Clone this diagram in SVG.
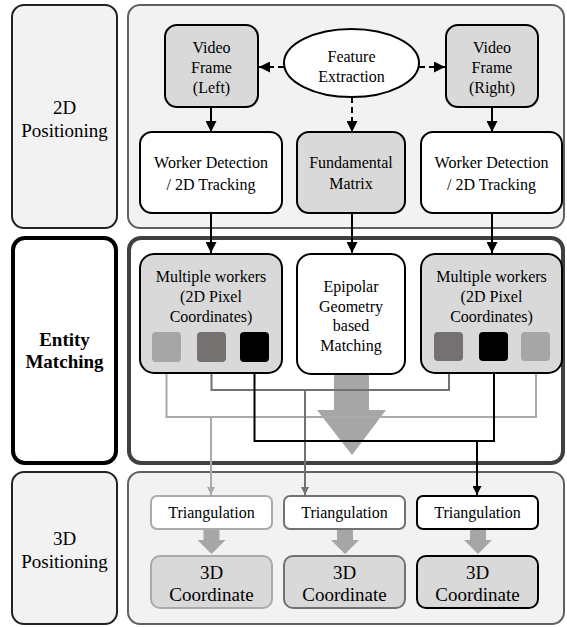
<svg xmlns="http://www.w3.org/2000/svg" width="567" height="627" viewBox="0 0 567 627" font-family="Liberation Serif">
<defs>
<style>
text{fill:#000;text-anchor:middle}
.t16{font-size:16px}
.t19{font-size:19px}
.b{font-weight:bold}
.node{stroke:#000;stroke-width:2}
.gray{fill:#d9d9d9}
.white{fill:#fff}
.c{fill:none;stroke-width:2}
</style>
<marker id="ahk" viewBox="0 0 10 10" refX="10" refY="5" markerWidth="11" markerHeight="11" markerUnits="userSpaceOnUse" orient="auto"><path d="M0,0 L10,5 L0,10 z" fill="#000"/></marker>
<marker id="ahk2" viewBox="0 0 10 10" refX="10" refY="5" markerWidth="9" markerHeight="9" markerUnits="userSpaceOnUse" orient="auto"><path d="M0,0 L10,5 L0,10 z" fill="#000"/></marker>
<marker id="ahl" viewBox="0 0 10 10" refX="10" refY="5" markerWidth="8" markerHeight="8" markerUnits="userSpaceOnUse" orient="auto"><path d="M0,0 L10,5 L0,10 z" fill="#aaaaaa"/></marker>
<marker id="ahm" viewBox="0 0 10 10" refX="10" refY="5" markerWidth="8" markerHeight="8" markerUnits="userSpaceOnUse" orient="auto"><path d="M0,0 L10,5 L0,10 z" fill="#767171"/></marker>
</defs>

<g id="panel-2d-label">
<rect x="12" y="5" width="105" height="223" rx="12" fill="#f2f2f2" stroke="#222" stroke-width="2"/>
<text class="t19" x="64.5" y="114" style="font-family:'Liberation Serif' !important"><tspan style="font-family:'Liberation Serif' !important">2D</tspan></text>
<text class="t19" x="64.5" y="137" style="font-family:'Liberation Serif' !important"><tspan style="font-family:'Liberation Serif' !important">Positioning</tspan></text>
</g>
<g id="panel-2d">
<rect x="128" y="5" width="436" height="223" rx="12" fill="#f2f2f2" stroke="#606060" stroke-width="2"/>
</g>
<g id="panel-em-label">
<rect x="13" y="238" width="103" height="225" rx="12" fill="#fff" stroke="#000" stroke-width="4"/>
<text class="t19 b" x="64.5" y="346" style="font-family:'Liberation Serif' !important"><tspan style="font-family:'Liberation Serif' !important">Entity</tspan></text>
<text class="t19 b" x="64.5" y="368" style="font-family:'Liberation Serif' !important"><tspan style="font-family:'Liberation Serif' !important">Matching</tspan></text>
</g>
<g id="panel-em">
<rect x="129" y="238" width="434" height="225" rx="12" fill="#fff" stroke="#404040" stroke-width="4"/>
</g>
<g id="panel-3d-label">
<rect x="12" y="472" width="105" height="152" rx="12" fill="#f2f2f2" stroke="#222" stroke-width="2"/>
<text class="t19" x="64.5" y="545" style="font-family:'Liberation Serif' !important"><tspan style="font-family:'Liberation Serif' !important">3D</tspan></text>
<text class="t19" x="64.5" y="568" style="font-family:'Liberation Serif' !important"><tspan style="font-family:'Liberation Serif' !important">Positioning</tspan></text>
</g>
<g id="panel-3d">
<rect x="128" y="472" width="436" height="152" rx="12" fill="#f2f2f2" stroke="#606060" stroke-width="2"/>
</g>

<g id="connectors">
<line class="c" x1="211" y1="107" x2="211" y2="132" stroke="#000" marker-end="url(#ahk)"/>
<line class="c" x1="492" y1="107" x2="492" y2="132" stroke="#000" marker-end="url(#ahk)"/>
<line class="c" x1="284" y1="67" x2="259" y2="67" stroke="#000" stroke-dasharray="6,4" marker-end="url(#ahk)"/>
<line class="c" x1="419" y1="67" x2="445" y2="67" stroke="#000" stroke-dasharray="6,4" marker-end="url(#ahk)"/>
<line class="c" x1="352" y1="97" x2="352" y2="132" stroke="#000" stroke-dasharray="6,4" marker-end="url(#ahk)"/>
<line class="c" x1="211" y1="213" x2="211" y2="253" stroke="#000" marker-end="url(#ahk)"/>
<line class="c" x1="352" y1="213" x2="352" y2="253" stroke="#000" marker-end="url(#ahk)"/>
<line class="c" x1="492" y1="213" x2="492" y2="253" stroke="#000" marker-end="url(#ahk)"/>
<polygon points="334,374 369,374 369,410 386,410 352,455 317,410 334,410" fill="#a6a6a6"/>
<polyline class="c" points="166.5,362 166.5,417 536,417 536,363" stroke="#aaaaaa" marker-end="url(#ahl)"/>
<line class="c" x1="211" y1="417" x2="211" y2="495" stroke="#aaaaaa" marker-end="url(#ahl)"/>
<polyline class="c" points="211.5,362 211.5,390 449,390 449,363" stroke="#767171" marker-end="url(#ahm)"/>
<line class="c" x1="305" y1="390" x2="305" y2="495" stroke="#767171" marker-end="url(#ahm)"/>
<polyline class="c" points="254.5,362 254.5,441 494,441 494,363" stroke="#000" marker-end="url(#ahk2)"/>
<line class="c" x1="477" y1="441" x2="477" y2="495" stroke="#000" marker-end="url(#ahk2)"/>
<polygon points="203.5,529 219.5,529 219.5,540 225.5,540 211.5,554 197.5,540 203.5,540" fill="#a6a6a6"/>
<polygon points="337,529 353,529 353,540 359,540 345,554 331,540 337,540" fill="#a6a6a6"/>
<polygon points="470,529 486,529 486,540 492,540 478,554 464,540 470,540" fill="#a6a6a6"/>
</g>

<g id="video-left">
<rect class="node gray" x="165" y="25" width="93" height="82" rx="12"/>
<text class="t16" x="211.5" y="53" style="font-family:'Liberation Serif' !important"><tspan style="font-family:'Liberation Serif' !important">Video</tspan></text>
<text class="t16" x="211.5" y="73" style="font-family:'Liberation Serif' !important"><tspan style="font-family:'Liberation Serif' !important">Frame</tspan></text>
<text class="t16" x="211.5" y="93" style="font-family:'Liberation Serif' !important"><tspan style="font-family:'Liberation Serif' !important">(Left)</tspan></text>
</g>
<g id="feature-extraction">
<ellipse class="node white" cx="351.5" cy="63" rx="67.5" ry="34"/>
<text class="t16" x="351.5" y="62" style="font-family:'Liberation Serif' !important"><tspan style="font-family:'Liberation Serif' !important">Feature</tspan></text>
<text class="t16" x="351.5" y="82" style="font-family:'Liberation Serif' !important"><tspan style="font-family:'Liberation Serif' !important">Extraction</tspan></text>
</g>
<g id="video-right">
<rect class="node gray" x="446" y="25" width="92" height="82" rx="12"/>
<text class="t16" x="492" y="53" style="font-family:'Liberation Serif' !important"><tspan style="font-family:'Liberation Serif' !important">Video</tspan></text>
<text class="t16" x="492" y="73" style="font-family:'Liberation Serif' !important"><tspan style="font-family:'Liberation Serif' !important">Frame</tspan></text>
<text class="t16" x="492" y="93" style="font-family:'Liberation Serif' !important"><tspan style="font-family:'Liberation Serif' !important">(Right)</tspan></text>
</g>
<g id="detect-left">
<rect class="node white" x="140" y="132" width="142" height="81" rx="12"/>
<text class="t16" x="211" y="168" style="font-family:'Liberation Serif' !important"><tspan style="font-family:'Liberation Serif' !important">Worker Detection</tspan></text>
<text class="t16" x="211" y="190" style="font-family:'Liberation Serif' !important"><tspan style="font-family:'Liberation Serif' !important">/ 2D Tracking</tspan></text>
</g>
<g id="fundamental">
<rect class="node gray" x="297" y="132" width="108" height="81" rx="12"/>
<text class="t16" x="351" y="168" style="font-family:'Liberation Serif' !important"><tspan style="font-family:'Liberation Serif' !important">Fundamental</tspan></text>
<text class="t16" x="351" y="189" style="font-family:'Liberation Serif' !important"><tspan style="font-family:'Liberation Serif' !important">Matrix</tspan></text>
</g>
<g id="detect-right">
<rect class="node white" x="421" y="132" width="141" height="81" rx="12"/>
<text class="t16" x="491.5" y="168" style="font-family:'Liberation Serif' !important"><tspan style="font-family:'Liberation Serif' !important">Worker Detection</tspan></text>
<text class="t16" x="491.5" y="190" style="font-family:'Liberation Serif' !important"><tspan style="font-family:'Liberation Serif' !important">/ 2D Tracking</tspan></text>
</g>

<g id="workers-left">
<rect class="node gray" x="140" y="254" width="142" height="119" rx="14"/>
<text class="t16" x="211" y="282" style="font-family:'Liberation Serif' !important"><tspan style="font-family:'Liberation Serif' !important">Multiple workers</tspan></text>
<text class="t16" x="211" y="302" style="font-family:'Liberation Serif' !important"><tspan style="font-family:'Liberation Serif' !important">(2D Pixel</tspan></text>
<text class="t16" x="211" y="322" style="font-family:'Liberation Serif' !important"><tspan style="font-family:'Liberation Serif' !important">Coordinates)</tspan></text>
<rect x="152" y="332" width="29" height="30" rx="4" fill="#a6a6a6"/>
<rect x="197" y="332" width="29" height="30" rx="4" fill="#767171"/>
<rect x="240" y="332" width="29" height="30" rx="4" fill="#000"/>
</g>
<g id="epipolar">
<rect class="node white" x="297" y="254" width="108" height="120" rx="14"/>
<text class="t16" x="351" y="292" style="font-family:'Liberation Serif' !important"><tspan style="font-family:'Liberation Serif' !important">Epipolar</tspan></text>
<text class="t16" x="351" y="312" style="font-family:'Liberation Serif' !important"><tspan style="font-family:'Liberation Serif' !important">Geometry</tspan></text>
<text class="t16" x="351" y="331" style="font-family:'Liberation Serif' !important"><tspan style="font-family:'Liberation Serif' !important">based</tspan></text>
<text class="t16" x="351" y="351" style="font-family:'Liberation Serif' !important"><tspan style="font-family:'Liberation Serif' !important">Matching</tspan></text>
</g>
<g id="workers-right">
<rect class="node gray" x="421" y="254" width="141" height="119" rx="14"/>
<text class="t16" x="491.5" y="282" style="font-family:'Liberation Serif' !important"><tspan style="font-family:'Liberation Serif' !important">Multiple workers</tspan></text>
<text class="t16" x="491.5" y="302" style="font-family:'Liberation Serif' !important"><tspan style="font-family:'Liberation Serif' !important">(2D Pixel</tspan></text>
<text class="t16" x="491.5" y="322" style="font-family:'Liberation Serif' !important"><tspan style="font-family:'Liberation Serif' !important">Coordinates)</tspan></text>
<rect x="434" y="332" width="29" height="29" rx="4" fill="#767171"/>
<rect x="479" y="332" width="29" height="29" rx="4" fill="#000"/>
<rect x="521" y="332" width="29" height="29" rx="4" fill="#a6a6a6"/>
</g>

<g id="tri-left">
<rect x="151" y="496" width="121" height="33" rx="6" fill="#fff" stroke="#aaaaaa" stroke-width="2"/>
<text class="t16" x="211.5" y="518" style="font-family:'Liberation Serif' !important"><tspan style="font-family:'Liberation Serif' !important">Triangulation</tspan></text>
</g>
<g id="tri-mid">
<rect x="284" y="496" width="121" height="33" rx="6" fill="#fff" stroke="#767171" stroke-width="2"/>
<text class="t16" x="344.5" y="518" style="font-family:'Liberation Serif' !important"><tspan style="font-family:'Liberation Serif' !important">Triangulation</tspan></text>
</g>
<g id="tri-right">
<rect x="417" y="496" width="121" height="33" rx="6" fill="#fff" stroke="#000" stroke-width="2"/>
<text class="t16" x="477.5" y="518" style="font-family:'Liberation Serif' !important"><tspan style="font-family:'Liberation Serif' !important">Triangulation</tspan></text>
</g>
<g id="coord-left">
<rect x="151" y="556" width="121" height="52" rx="9" fill="#d9d9d9" stroke="#aaaaaa" stroke-width="2"/>
<text class="t19" x="211.5" y="579" style="font-family:'Liberation Serif' !important"><tspan style="font-family:'Liberation Serif' !important">3D</tspan></text>
<text class="t19" x="211.5" y="601" style="font-family:'Liberation Serif' !important"><tspan style="font-family:'Liberation Serif' !important">Coordinate</tspan></text>
</g>
<g id="coord-mid">
<rect x="284" y="556" width="121" height="52" rx="9" fill="#d9d9d9" stroke="#767171" stroke-width="2"/>
<text class="t19" x="344.5" y="579" style="font-family:'Liberation Serif' !important"><tspan style="font-family:'Liberation Serif' !important">3D</tspan></text>
<text class="t19" x="344.5" y="601" style="font-family:'Liberation Serif' !important"><tspan style="font-family:'Liberation Serif' !important">Coordinate</tspan></text>
</g>
<g id="coord-right">
<rect x="417" y="556" width="121" height="52" rx="9" fill="#d9d9d9" stroke="#000" stroke-width="2"/>
<text class="t19" x="477.5" y="579" style="font-family:'Liberation Serif' !important"><tspan style="font-family:'Liberation Serif' !important">3D</tspan></text>
<text class="t19" x="477.5" y="601" style="font-family:'Liberation Serif' !important"><tspan style="font-family:'Liberation Serif' !important">Coordinate</tspan></text>
</g>
</svg>
